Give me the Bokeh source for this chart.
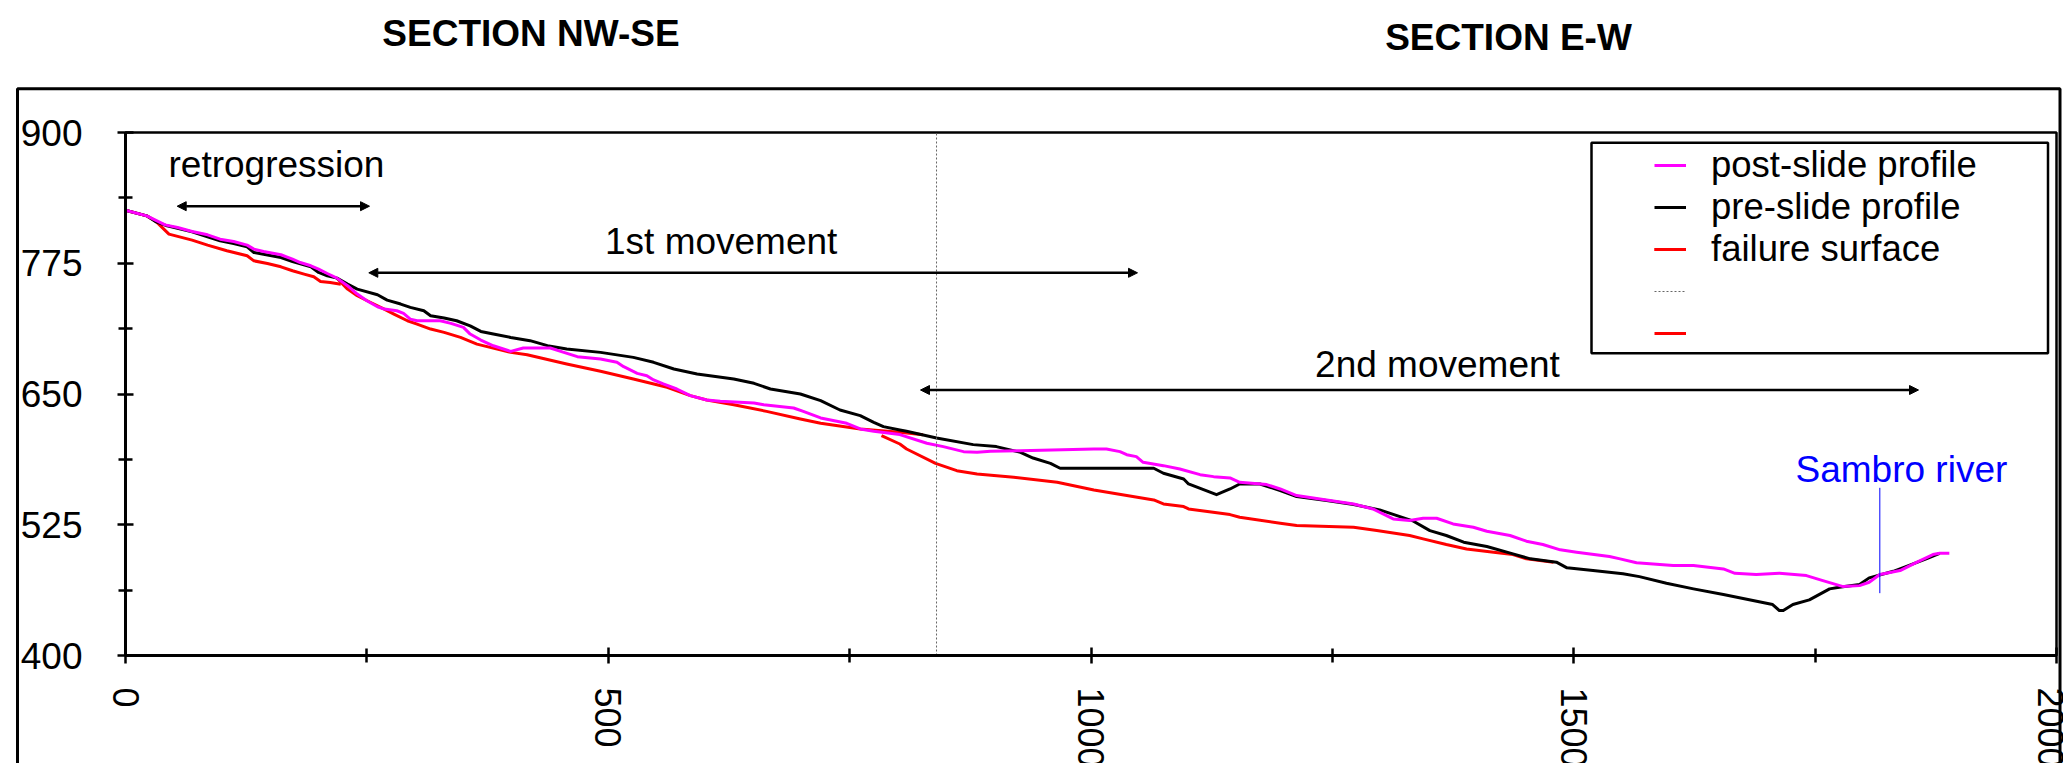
import math
from bokeh.plotting import figure
from bokeh.models import (Range1d, FixedTicker, Label, Arrow, NormalHead, BoxAnnotation,
                          Legend, LegendItem)
from bokeh.core.properties import value
from bokeh.embed import file_html
from bokeh.resources import INLINE

# ---------------- data (distance along section, m ; elevation, m a.s.l.) ----------------
post_x = [0, 22, 31, 41, 54, 69, 85, 98, 112, 126, 133, 143, 161, 173, 181, 192, 200, 209, 219, 230,
          240, 250, 261, 268, 281, 288, 295, 302, 326, 337, 350, 357, 368, 381, 399,
          412, 440, 454, 468, 492, 509, 516, 530, 540, 547, 557, 571, 585, 602, 616, 651, 661, 692,
          702, 720, 747, 761, 775, 802,
          830, 847, 868, 882, 896, 927, 1003, 1016, 1030, 1037, 1047, 1054, 1075, 1092, 1113, 1127,
          1144, 1154, 1182, 1196,
          1213, 1244, 1272, 1292, 1313, 1330, 1344, 1358, 1375, 1396, 1410, 1434, 1451, 1468, 1486,
          1503, 1537, 1548, 1565,
          1603, 1624, 1655, 1667, 1689, 1713, 1741, 1758, 1779, 1796, 1806, 1817, 1838, 1855, 1872,
          1879, 1889]
post_y = [825.7, 820.3, 816.2, 811.7, 809.2, 805.4, 802.2, 798.0, 795.8, 792.3, 788.5, 786.3, 783.1,
          778.9, 775.7, 772.6, 769.4, 765.2, 760.8, 753.5, 745.5, 739.1, 733.4, 731.2, 729.6, 727.0,
          721.6, 720.0, 720.0, 717.5, 713.7, 707.3, 701.6, 696.1, 690.7,
          694.0, 694.0, 689.8, 685.7, 683.4, 680.3, 676.1, 669.7, 667.5, 663.4, 659.6, 654.8, 648.4,
          644.3, 643.0, 641.4, 639.8, 636.6, 633.4, 627.1, 622.0, 616.6, 614.3, 611.2,
          602.9, 599.7, 594.9, 594.3, 595.2, 595.8, 597.4, 597.4, 594.9, 592.0, 590.1, 584.7, 581.5,
          578.3, 572.9, 571.0, 569.7, 565.6, 563.4, 559.2,
          552.9, 548.7, 544.9, 540.1, 530.6, 529.0, 531.2, 531.2, 525.8, 522.6, 518.8, 514.7, 509.3,
          506.1, 501.0, 498.7, 494.6, 492.4, 488.6,
          486.0, 486.0, 482.8, 478.6, 477.4, 478.6, 476.4, 471.6, 465.9, 466.8, 470.0, 477.4, 481.2,
          489.1, 496.5, 497.7, 497.7]

pre_x = [0, 22, 31, 43, 69, 85, 98, 112, 126, 133, 143, 161, 173, 192, 200, 209, 219, 230, 240, 261,
         271, 285, 295, 309, 316, 330, 343, 357, 368, 381, 399,
         419, 437, 457, 492, 526, 547, 568, 592, 630, 651, 668, 699, 720, 740, 761, 775, 785, 802,
         809, 840, 878, 902, 927, 940, 958, 968, 1065, 1075, 1096, 1101, 1130, 1144, 1154, 1175, 1196,
         1213, 1244, 1272, 1299, 1334, 1351, 1368, 1386, 1410, 1437, 1455, 1482, 1493, 1520, 1551,
         1568, 1596, 1624, 1655, 1706, 1713, 1717, 1727, 1744, 1765, 1775, 1796, 1806, 1831, 1844,
         1865, 1879]
pre_y = [825.7, 820.3, 814.9, 810.8, 805.0, 800.3, 796.4, 793.9, 790.7, 785.3, 783.7, 780.5, 776.7,
         771.6, 766.2, 763.0, 760.8, 755.0, 750.3, 744.9, 739.8, 736.0, 732.8, 729.6, 724.8, 722.6,
         720.0, 715.2, 709.8, 707.3, 704.1,
         701.0, 696.2, 693.0, 689.8, 685.0, 680.3, 673.9, 669.1, 664.3, 660.2, 654.8, 650.0, 643.6,
         634.7, 629.3, 622.9, 618.8, 615.6,
         614.3, 607.9, 601.6, 599.7, 594.3, 588.8, 583.7, 579.0, 579.0, 574.2, 568.8, 564.0, 553.8,
         559.2, 564.0, 564.0, 557.6,
         551.9, 548.1, 544.3, 539.2, 528.4, 519.4, 514.7, 508.3, 504.2, 497.2, 492.4, 489.2, 483.8,
         481.2, 478.1,
         475.4, 469.0, 463.7, 458.3, 448.7, 443.0, 443.0, 448.7, 453.2, 463.7, 465.3, 467.8, 474.2,
         480.5, 485.0, 492.3, 497.7]

# failure surface: retrogression part and 1st movement part
fail_a_x = [0, 22, 31, 45, 69, 85, 105, 126, 133, 147, 161, 173, 185, 195, 202, 212, 223]
fail_a_y = [825.7, 820.3, 815.5, 802.8, 797.1, 792.3, 786.9, 782.1, 777.3, 774.8, 771.6, 767.8,
            764.6, 762.1, 757.6, 756.6, 755.0]
fail_b_x = [219, 230, 240, 254, 268, 278, 292, 302, 316, 330, 347, 364, 399, 416, 457, 492, 526, 561,
            585, 602, 630, 664, 699, 720, 761, 802, 826]
fail_b_y = [760.8, 750.3, 743.9, 737.5, 731.2, 726.4, 720.0, 716.8, 712.1, 708.9, 704.1, 697.7,
            689.8, 687.6, 678.7, 671.7, 664.3, 656.4, 648.4, 644.3, 639.8, 633.4, 626.1, 622.0,
            616.6, 613.4, 611.1]
# failure surface of the 2nd movement
fail_c_x = [783, 802, 809, 839, 861, 882, 920, 965, 1003, 1065, 1075, 1096, 1101, 1144, 1154, 1196,
            1213, 1272, 1296, 1330, 1344, 1368, 1389, 1417, 1437, 1451, 1479]
fail_c_y = [610.2, 602.2, 597.4, 583.7, 576.7, 573.6, 570.4, 565.6, 558.3, 548.7, 544.9, 542.4,
            540.1, 534.7, 532.2, 526.4, 524.2, 522.6, 519.4, 514.7, 511.5, 506.1, 501.9, 498.7,
            496.5, 492.4, 489.2]

# section boundary (NW-SE / E-W) and river marker
boundary_x = [840, 840]
boundary_y = [400, 900]
river_x = [1817, 1817]
river_y = [459.6, 560.3]

x_ticks = [0, 500, 1000, 1500, 2000]
x_minor = [250, 750, 1250, 1750]
y_ticks = [400, 525, 650, 775, 900]
y_minor = [462.5, 587.5, 712.5, 837.5]

titles = ["SECTION NW-SE", "SECTION E-W"]
legend_labels = ["post-slide profile", "pre-slide profile", "failure surface", "", ""]

# ---------------- layout (pixels) ----------------
W, H = 2063, 763
FL, FR, FT, FB = 125, 2056, 132, 655          # plot area in canvas pixels
FONT = "Liberation Sans"
BASE_FIX = 11                                  # label baseline correction (px)

sx = (FR - FL) / (x_ticks[-1] - x_ticks[0])
sy = (FB - FT) / (y_ticks[-1] - y_ticks[0])


def dx(px):
    return x_ticks[0] + (px - FL) / sx


def dy(py):
    return y_ticks[-1] - (py - FT) / sy


p = figure(width=W, height=H,
           x_range=Range1d(dx(0), dx(W)), y_range=Range1d(dy(H), dy(0)),
           output_backend="svg", toolbar_location=None,
           min_border_left=0, min_border_right=0, min_border_top=0, min_border_bottom=0,
           background_fill_color="white", border_fill_color="white")
p.title.visible = False
p.xgrid.visible = False
p.ygrid.visible = False
p.outline_line_color = None

xa, ya = p.xaxis[0], p.yaxis[0]
for ax in (xa, ya):
    ax.axis_line_width = 3
    ax.axis_line_color = "black"
    ax.major_tick_line_width = 2.5
    ax.minor_tick_line_width = 2.5
    ax.major_tick_line_color = "black"
    ax.minor_tick_line_color = "black"
    ax.major_tick_in = 8
    ax.major_tick_out = 8
    ax.minor_tick_in = 7
    ax.minor_tick_out = 7
    ax.major_label_text_font = FONT
    ax.major_label_text_font_size = "37px"
    ax.major_label_text_color = "black"

xa.ticker = FixedTicker(ticks=x_ticks, minor_ticks=x_minor)
ya.ticker = FixedTicker(ticks=y_ticks, minor_ticks=y_minor)
xa.fixed_location = y_ticks[0]
ya.fixed_location = x_ticks[0]
xa.bounds = (x_ticks[0], x_ticks[-1])
ya.bounds = (y_ticks[0], y_ticks[-1])
xa.major_label_orientation = -math.pi / 2
xa.major_label_text_font_size = "36px"
xa.major_label_standoff = 24
ya.major_label_standoff = 35

# outer frame of the figure
p.add_layout(BoxAnnotation(left=dx(17), right=dx(2059.5), top=dy(88.3), bottom=dy(900),
                           fill_color=None, fill_alpha=0, line_color="black", line_alpha=1,
                           line_width=3, level="underlay"))
# plot-area border (top and right edges)
p.add_layout(BoxAnnotation(left=x_ticks[0], right=x_ticks[-1], top=y_ticks[-1], bottom=y_ticks[0],
                           fill_color=None, fill_alpha=0, line_color="black", line_alpha=1,
                           line_width=2.5, level="underlay"))

# data lines
LW = 3
r_fa = p.line(fail_a_x, fail_a_y, line_color="#FF0000", line_width=LW, line_join="round")
r_fb = p.line(fail_b_x, fail_b_y, line_color="#FF0000", line_width=LW, line_join="round")
r_fc = p.line(fail_c_x, fail_c_y, line_color="#FF0000", line_width=LW, line_join="round")
r_pre = p.line(pre_x, pre_y, line_color="black", line_width=LW, line_join="round")
r_post = p.line(post_x, post_y, line_color="#FF00FF", line_width=LW, line_join="round")
r_bound = p.line(boundary_x, boundary_y, line_color="#666666", line_width=1, line_dash="2 2")
p.line(river_x, river_y, line_color="#0000FF", line_width=1)


def harrow(px0, px1, py):
    head = dict(size=9, fill_color="black", line_color="black", line_width=1)
    p.add_layout(Arrow(start=NormalHead(**head), end=NormalHead(**head),
                       x_start=dx(px0), y_start=dy(py), x_end=dx(px1), y_end=dy(py),
                       line_color="black", line_width=2.5))


harrow(176.7, 369, 205.7)
harrow(368.3, 1137, 272.3)
harrow(920, 1918, 389.5)


def add_text(px, baseline_px, t, size="37px", color="black", style="normal", align="left"):
    p.add_layout(Label(x=dx(px), y=dy(baseline_px - BASE_FIX), text=t, text_font=FONT,
                       text_font_size=size, text_color=color, text_font_style=style,
                       text_align=align, text_baseline="alphabetic"))


add_text(530.5, 44, titles[0], style="bold", align="center")
add_text(1508, 48, titles[1], style="bold", align="center")
add_text(168, 175, "retrogression")
add_text(604.5, 252, "1st movement")
add_text(1314.6, 375, "2nd movement")
add_text(1795, 480, "Sambro river", color="#0000FF")

# legend frame
p.add_layout(BoxAnnotation(left=dx(1591), right=dx(2047.5), top=dy(142.3), bottom=dy(352.7),
                           fill_color="white", fill_alpha=1, line_color="black", line_alpha=1,
                           line_width=2.5))

legend = Legend(items=[LegendItem(label=value(legend_labels[0]), renderers=[r_post]),
                       LegendItem(label=value(legend_labels[1]), renderers=[r_pre]),
                       LegendItem(label=value(legend_labels[2]), renderers=[r_fa, r_fb]),
                       LegendItem(label=value(legend_labels[3]), renderers=[r_bound]),
                       LegendItem(label=value(legend_labels[4]), renderers=[r_fc])],
                location=(1654, H - 352 - 2), padding=0, spacing=0, margin=0,
                glyph_width=32, glyph_height=42, label_height=42, label_standoff=25,
                label_text_font=FONT, label_text_font_size="36.5px", label_text_color="black",
                border_line_alpha=0, background_fill_alpha=0)
p.add_layout(legend, "center")

open("out.html", "w").write(file_html(p, INLINE))
